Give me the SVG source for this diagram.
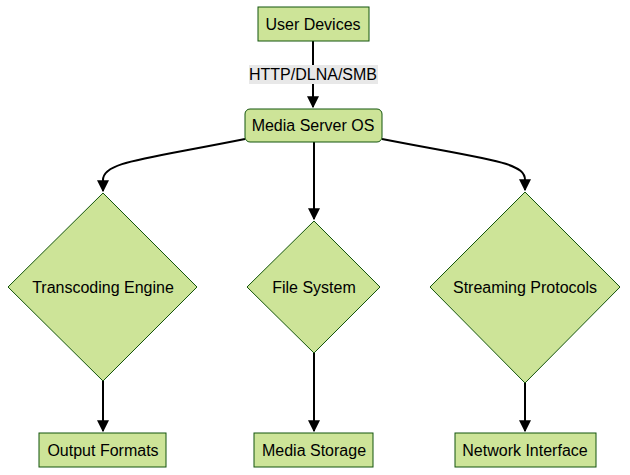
<svg xmlns="http://www.w3.org/2000/svg" width="630" height="475" viewBox="0 0 630 475">
<style>
.n{fill:#cde498;stroke:#13540c;stroke-width:1}
.t{font-family:"Liberation Sans",Arial,sans-serif;font-size:16px;fill:#000;text-anchor:middle;dominant-baseline:central}
.e{fill:none;stroke:#000;stroke-width:2}
</style>
<defs><marker id="a" viewBox="0 0 10 10" refX="9" refY="5" markerWidth="6" markerHeight="6" orient="auto"><path d="M0,0L10,5L0,10z" fill="#000"/></marker></defs>
<rect width="630" height="475" fill="#fff"/>
<g id="connectors">
<path class="e" d="M313,41V107" marker-end="url(#a)"/>
<rect x="249" y="65" width="129" height="19" fill="#e8e8e8"/>
<text class="t" x="313" y="74">HTTP/DLNA/SMB</text>
<path class="e" d="M245,139C140,160 103,162 103,180V191" marker-end="url(#a)"/>
<path class="e" d="M314,142V219" marker-end="url(#a)"/>
<path class="e" d="M382,139C490,160 525,162 525,180V190" marker-end="url(#a)"/>
<path class="e" d="M103,381V431" marker-end="url(#a)"/>
<path class="e" d="M314,353V431" marker-end="url(#a)"/>
<path class="e" d="M525,383V431" marker-end="url(#a)"/>
</g>
<g id="userDevices"><rect class="n" x="258" y="7" width="111" height="34"/><text class="t" x="313" y="24">User Devices</text></g>
<g id="mediaServer"><rect class="n" x="245" y="109" width="137" height="33" rx="5"/><text class="t" x="313" y="125">Media Server OS</text></g>
<g id="transcoding"><polygon class="n" points="103,193 197,287 103,381 8,287"/><text class="t" x="103" y="287">Transcoding Engine</text></g>
<g id="fileSystem"><polygon class="n" points="314,221 380,287 314,353 247,287"/><text class="t" x="314" y="287">File System</text></g>
<g id="streaming"><polygon class="n" points="525,192 620,287 525,383 430,287"/><text class="t" x="525" y="287">Streaming Protocols</text></g>
<g id="outputFormats"><rect class="n" x="39" y="433" width="127" height="34"/><text class="t" x="103" y="450">Output Formats</text></g>
<g id="mediaStorage"><rect class="n" x="254" y="433" width="119" height="34"/><text class="t" x="314" y="450">Media Storage</text></g>
<g id="networkInterface"><rect class="n" x="455" y="433" width="141" height="34"/><text class="t" x="525" y="450">Network Interface</text></g>
</svg>
